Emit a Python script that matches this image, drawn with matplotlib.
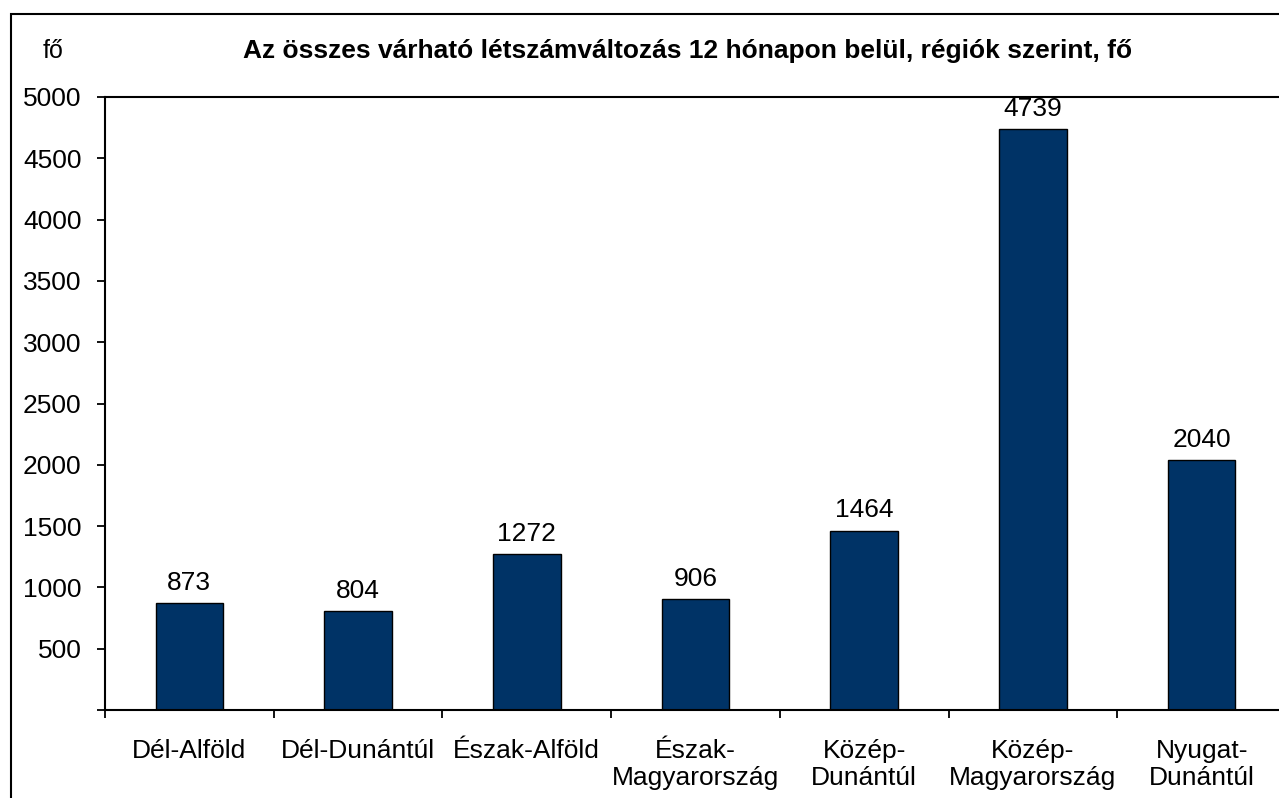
import matplotlib.pyplot as plt
from matplotlib.patches import Rectangle

regions = ["Dél-Alföld", "Dél-Dunántúl", "Észak-Alföld", "Észak-\nMagyarország",
           "Közép-\nDunántúl", "Közép-\nMagyarország", "Nyugat-\nDunántúl"]
values = [873, 804, 1272, 906, 1464, 4739, 2040]
yticks = [0, 500, 1000, 1500, 2000, 2500, 3000, 3500, 4000, 4500, 5000]

plt.rcParams['font.family'] = ['Liberation Sans', 'DejaVu Sans']

fig = plt.figure(figsize=(12.79, 7.98), dpi=100)
ax = fig.add_axes([105 / 1279, 1 - 710 / 798, (1286 - 105) / 1279, (710 - 97) / 798])

x = list(range(len(values)))
bars = ax.bar(x, values, width=0.4, color="#003366", edgecolor="black", linewidth=1)
ax.bar_label(bars, labels=[str(v) for v in values], padding=6, fontsize=19)

ax.set_xlim(-0.5, len(values) - 0.5)
ax.set_ylim(0, 5000)
ax.set_yticks(yticks)
ax.set_yticklabels(["" if t == 0 else str(t) for t in yticks], fontsize=19)
ax.set_xticks(x)
ax.set_xticklabels(regions, fontsize=19, linespacing=1.15)
ax.set_xticks([i - 0.5 for i in range(len(values) + 1)], minor=True)
ax.tick_params(axis="x", which="major", length=0, pad=21)
ax.tick_params(axis="x", which="minor", length=6, width=1.3, direction="out")
ax.tick_params(axis="y", length=6, width=1.3, pad=11)
for sp in ax.spines.values():
    sp.set_linewidth(1.5)

fig.text(53 / 1279, 1 - 51 / 798, "fő", fontsize=18, ha="center", va="center")
fig.text(688 / 1279, 1 - 51 / 798,
         "Az összes várható létszámváltozás 12 hónapon belül, régiók szerint, fő",
         fontsize=19, fontweight="bold", ha="center", va="center")

fig.patches.append(Rectangle((11 / 1279, -0.1), 1.5, 1 - 14 / 798 + 0.1,
                             transform=fig.transFigure, fill=False,
                             edgecolor="black", linewidth=1.5))

plt.savefig("out.png", dpi=100)
